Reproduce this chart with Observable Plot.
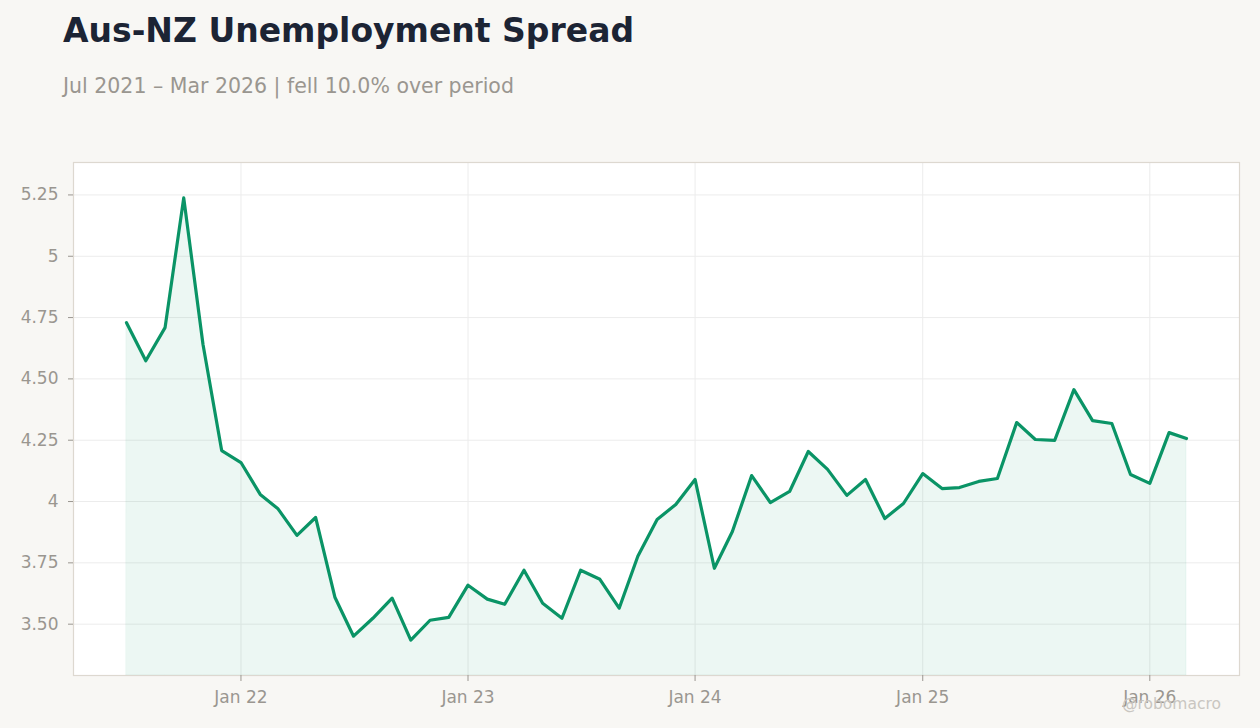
<!DOCTYPE html>
<html>
<head>
<meta charset="utf-8">
<script src="https://cdn.jsdelivr.net/npm/d3@7"></script>
<script src="https://cdn.jsdelivr.net/npm/@observablehq/plot@0.6"></script>
<style>
  html, body { margin: 0; padding: 0; background: #f8f7f4; width: 1260px; height: 728px; overflow: hidden; font-family: "DejaVu Sans", sans-serif; }
  #title { position: absolute; left: 63px; top: 11px; font-size: 33px; font-weight: bold; color: #1c2434; white-space: nowrap; }
  #subtitle { position: absolute; left: 63px; top: 74px; font-size: 20.5px; color: #9a9690; white-space: nowrap; }
  #chart { position: absolute; left: 0; top: 140px; }
  #credit { position: absolute; left: 1122px; top: 695px; font-size: 15.5px; color: #c9c6c1; white-space: nowrap; }
</style>
</head>
<body>
<div id="title">Aus-NZ Unemployment Spread</div>
<div id="subtitle">Jul 2021 – Mar 2026 | fell 10.0% over period</div>
<div id="chart"></div>
<div id="credit">@robomacro</div>
<script>
const months = [
  "2021-07","2021-08","2021-09","2021-10","2021-11","2021-12",
  "2022-01","2022-02","2022-03","2022-04","2022-05","2022-06","2022-07","2022-08","2022-09","2022-10","2022-11","2022-12",
  "2023-01","2023-02","2023-03","2023-04","2023-05","2023-06","2023-07","2023-08","2023-09","2023-10","2023-11","2023-12",
  "2024-01","2024-02","2024-03","2024-04","2024-05","2024-06","2024-07","2024-08","2024-09","2024-10","2024-11","2024-12",
  "2025-01","2025-02","2025-03","2025-04","2025-05","2025-06","2025-07","2025-08","2025-09","2025-10","2025-11","2025-12",
  "2026-01","2026-02","2026-03"
];
const spread = [
  4.729, 4.574, 4.709, 5.238, 4.640, 4.208,
  4.159, 4.029, 3.972, 3.862, 3.935, 3.610, 3.451, 3.524, 3.606, 3.435, 3.516, 3.528,
  3.659, 3.602, 3.581, 3.720, 3.585, 3.524, 3.720, 3.683, 3.565, 3.777, 3.927, 3.988,
  4.090, 3.728, 3.878, 4.106, 3.996, 4.041, 4.204, 4.131, 4.025, 4.090, 3.931, 3.992,
  4.114, 4.053, 4.057, 4.082, 4.094, 4.322, 4.253, 4.249, 4.456, 4.330, 4.318, 4.110,
  4.074, 4.281, 4.257
];
const yTicks = [3.5, 3.75, 4, 4.25, 4.5, 4.75, 5, 5.25];
const yTickLabels = ["3.50", "3.75", "4", "4.25", "4.50", "4.75", "5", "5.25"];
const xTicks = ["2022-01", "2023-01", "2024-01", "2025-01", "2026-01"];
const xTickLabels = ["Jan 22", "Jan 23", "Jan 24", "Jan 25", "Jan 26"];

const parse = d3.utcParse("%Y-%m");
const data = months.map((m, i) => ({date: parse(m), value: spread[i]}));
const xt = xTicks.map(parse);

const t0 = data[0].date, t1 = data[data.length - 1].date;
const span = t1 - t0;
const xDomain = [new Date(+t0 - span * 0.05), new Date(+t1 + span * 0.05)];
const vmin = d3.min(spread), vmax = d3.max(spread);
const vr = vmax - vmin;
const yDomain = [vmin - vr * 0.08, vmax + vr * 0.08];

const green = "#0a9466";

const chart = Plot.plot({
  width: 1260,
  height: 588,
  marginLeft: 73,
  marginRight: 21,
  marginTop: 22,
  marginBottom: 53,
  style: {background: "transparent", fontFamily: "DejaVu Sans, sans-serif", fontSize: "17px", color: "#9a9690"},
  x: {type: "utc", domain: xDomain},
  y: {domain: yDomain},
  marks: [
    Plot.frame({fill: "white", stroke: "none"}),
    Plot.gridY(yTicks, {stroke: "#ececec", strokeOpacity: 1}),
    Plot.gridX(xt, {stroke: "#ececec", strokeOpacity: 1}),
    Plot.areaY(data, {x: "date", y1: yDomain[0], y2: "value", fill: green, fillOpacity: 0.08, stroke: green, strokeOpacity: 0.06}),
    Plot.lineY(data, {x: "date", y: "value", stroke: green, strokeWidth: 3.2, strokeLinejoin: "round"}),
    Plot.frame({stroke: "#ddd8d0", strokeWidth: 1.2}),
    Plot.axisY(yTicks, {tickFormat: (d) => yTickLabels[yTicks.indexOf(d)], tickSize: 5, tickPadding: 10, stroke: "#9a9690", fill: "#9a9690", label: null}),
    Plot.axisX(xt, {tickFormat: (d) => xTickLabels[xt.findIndex(t => +t === +d)], tickSize: 6, tickPadding: 9, stroke: "#9a9690", fill: "#9a9690", label: null})
  ]
});
document.getElementById("chart").appendChild(chart);
</script>
</body>
</html>
